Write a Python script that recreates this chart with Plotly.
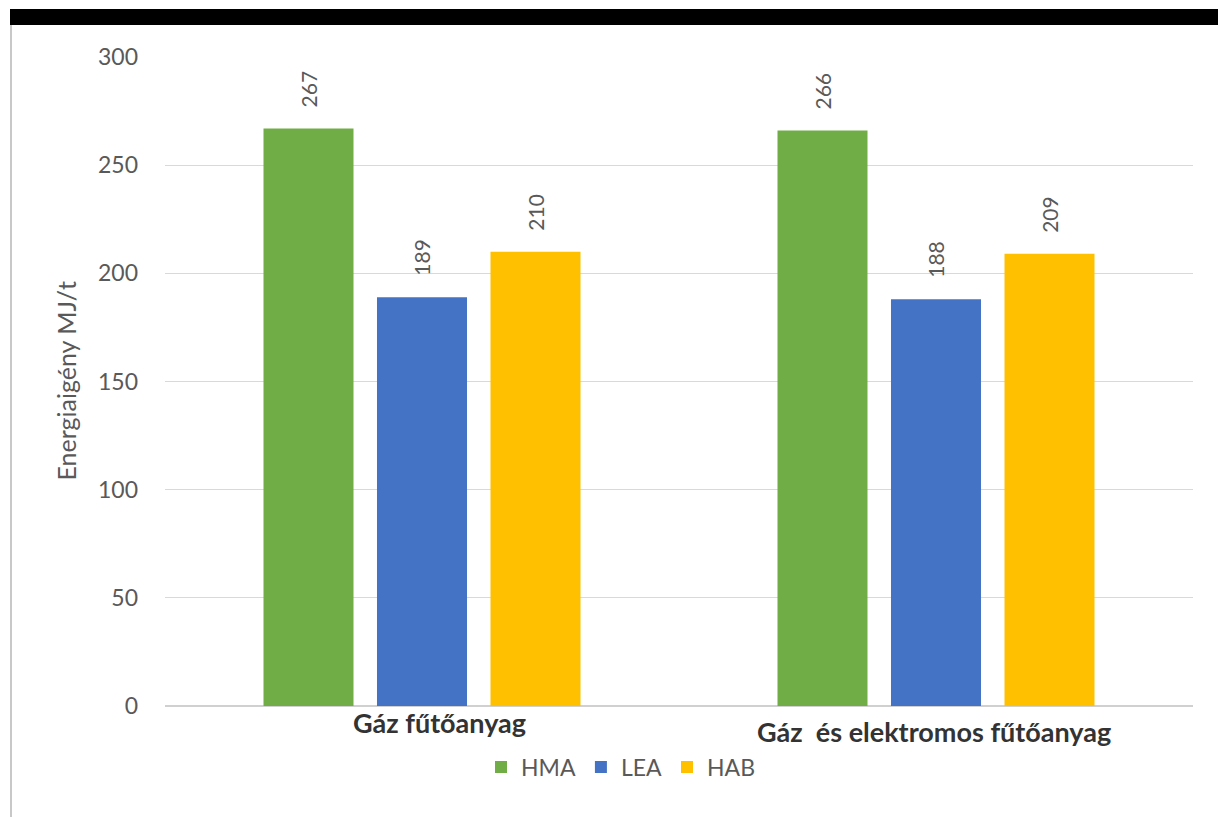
import plotly.graph_objects as go

categories = ["Gáz fűtőanyag", "Gáz  és elektromos fűtőanyag"]
series_names = ["HMA", "LEA", "HAB"]
hma = [267, 266]
lea = [189, 188]
hab = [210, 209]
series_values = [hma, lea, hab]
colors = ["#70ad47", "#4472c4", "#ffc000"]
y_ticks = [0, 50, 100, 150, 200, 250, 300]

# label placement quirks of the original (pixel shifts)
cat_label_xshift = [17, -2]
cat_label_yshift = [-16, -25]

W, H = 1218, 817
L, R, T, B = 165, 25, 57, 111
PW, PH = W - L - R, H - T - B


def px2x(px):
    return (px - L) / PW


def px2y(py):
    return (H - B - py) / PH


FONT = "Lato, 'Liberation Sans', sans-serif"
GRAY = "#595959"

fig = go.Figure()
for name, vals, col in zip(series_names, series_values, colors):
    fig.add_trace(go.Bar(name=name, x=categories, y=vals, marker=dict(color=col, line=dict(width=0))))

nser = len(series_names)
bargap = 0.3375
slot = (1 - bargap) / nser
annotations = []
for i, (name, vals) in enumerate(zip(series_names, series_values)):
    for j, v in enumerate(vals):
        xoff = (i - (nser - 1) / 2) * slot
        annotations.append(dict(
            x=j + xoff, y=v, xref="x", yref="y", text=str(v), textangle=-90,
            showarrow=False, yanchor="bottom", xanchor="center", yshift=19,
            font=dict(family=FONT, size=21, color=GRAY)))

for j, cat in enumerate(categories):
    annotations.append(dict(
        x=j, y=0, xref="x", yref="y", text=cat, showarrow=False,
        xanchor="center", yanchor="middle",
        xshift=cat_label_xshift[j], yshift=cat_label_yshift[j],
        font=dict(family=FONT, size=27, color="#333333", weight="bold")))

annotations.append(dict(
    x=px2x(65), y=0.5, xref="paper", yref="paper", text="Energiaigény MJ/t",
    textangle=-90, showarrow=False, xanchor="center", yanchor="middle",
    font=dict(family=FONT, size=25, color=GRAY)))

shapes = [
    dict(type="rect", xref="paper", yref="paper", x0=px2x(10), x1=px2x(1218),
         y0=px2y(25), y1=px2y(9), fillcolor="black", line=dict(width=0), layer="above"),
    dict(type="line", xref="paper", yref="paper", x0=px2x(11), x1=px2x(11),
         y0=px2y(817), y1=px2y(25), line=dict(color="#c8c8c8", width=2), layer="above"),
]

fig.update_layout(
    width=W, height=H,
    margin=dict(l=L, r=R, t=T, b=B, autoexpand=False),
    paper_bgcolor="white", plot_bgcolor="white",
    barmode="group", bargap=bargap, bargroupgap=0.207,
    font=dict(family=FONT, color=GRAY),
    showlegend=True,
    legend=dict(orientation="h", x=px2x(621), xanchor="center", y=px2y(767), yanchor="middle",
                font=dict(family=FONT, size=23, color=GRAY), itemwidth=30,
                bgcolor="rgba(0,0,0,0)"),
    annotations=annotations,
    shapes=shapes,
)
fig.update_xaxes(
    range=[-0.5, 1.5], showgrid=False, showline=False, zeroline=False, ticks="",
    showticklabels=False, automargin=False,
)
fig.update_yaxes(
    range=[0, 300], tickvals=y_ticks, showgrid=True, gridcolor="#d9d9d9", gridwidth=1,
    zeroline=True, zerolinecolor="#d0d0d0", zerolinewidth=1.5,
    showline=False, ticks="", ticklabelstandoff=26,
    tickfont=dict(family=FONT, size=23, color=GRAY), automargin=False,
)

fig.write_html("out.html")
